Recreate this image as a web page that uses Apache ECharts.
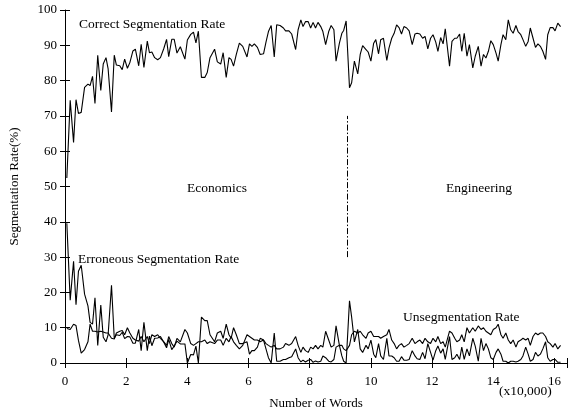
<!DOCTYPE html>
<html>
<head>
<meta charset="utf-8">
<script src="https://cdn.jsdelivr.net/npm/echarts@6/dist/echarts.min.js"></script>
<style>html,body{margin:0;padding:0;background:#fff}#c{width:570px;height:415px}</style>
</head>
<body>
<div id="c"></div>
<script>
const xs = [
0.06,0.17,0.28,0.36,0.44,0.53,0.64,0.75,0.82,0.90,
0.98,1.07,1.17,1.25,1.34,1.41,1.52,1.61,1.68,1.79,
1.87,1.95,2.04,2.12,2.22,2.30,2.41,2.49,2.58,2.69,
2.76,2.84,2.93,3.03,3.12,3.23,3.32,3.39,3.49,3.57,
3.66,3.77,3.92,4.00,4.11,4.20,4.28,4.36,4.46,4.57,
4.65,4.74,4.89,4.98,5.09,5.17,5.27,5.36,5.43,5.51,
5.60,5.70,5.81,5.95,6.03,6.11,6.19,6.29,6.38,6.49,
6.57,6.65,6.74,6.84,6.92,7.03,7.14,7.21,7.32,7.41,
7.54,7.62,7.71,7.78,7.86,7.95,8.03,8.11,8.19,8.27,
8.36,8.43,8.52,8.62,8.70,8.79,8.86,8.97,9.05,9.11,
9.19,9.30,9.37,9.46,9.57,9.65,9.73,9.84,9.91,10.00,
10.09,10.16,10.25,10.32,10.41,10.52,10.59,10.68,10.76,10.84,
10.92,11.00,11.08,11.17,11.25,11.35,11.44,11.51,11.60,11.69,
11.77,11.86,11.95,12.03,12.12,12.19,12.28,12.36,12.43,12.49,
12.57,12.65,12.74,12.81,12.90,12.97,13.05,13.14,13.22,13.33,
13.41,13.51,13.60,13.68,13.76,13.84,13.92,14.00,14.09,14.16,
14.25,14.32,14.41,14.49,14.57,14.65,14.74,14.81,14.90,14.97,
15.06,15.14,15.21,15.30,15.38,15.46,15.54,15.62,15.71,15.78,
15.86,15.95,16.02,16.11,16.20
];
const correctRate = [
52.4,74.4,62.5,74.6,70.7,71.0,78.1,79.0,78.6,81.2,
73.5,87.2,77.2,84.7,86.5,83.3,71.1,87.2,84.4,84.2,
83.1,86.1,83.5,85.1,88.4,88.9,84.2,90.3,83.7,91.2,
87.9,88.1,86.5,85.9,86.5,89.1,91.7,86.8,91.7,91.7,
87.8,89.6,86.1,91.5,93.1,93.7,90.7,94.0,80.9,80.9,
82.3,86.5,88.9,85.3,84.7,87.9,80.9,86.5,86.0,84.1,
87.4,90.6,89.7,86.7,90.4,89.7,90.4,89.4,87.4,87.6,
90.9,93.9,95.6,86.7,95.8,95.6,94.9,94.1,94.1,93.2,
88.8,94.4,97.2,95.3,96.7,96.7,94.9,96.5,94.9,96.5,
95.3,93.9,90.2,93.9,95.6,94.4,85.5,90.6,93.4,94.2,
96.9,78.0,79.4,85.5,81.9,87.4,89.9,88.8,88.1,85.5,
90.6,91.6,87.6,91.6,92.0,85.7,89.2,92.0,93.4,95.8,
95.0,93.2,95.3,94.9,94.1,90.2,93.2,93.4,93.2,92.0,
92.5,89.0,92.0,93.0,90.9,88.3,92.2,90.4,94.7,95.0,
84.1,91.1,92.0,92.0,93.2,88.3,93.4,86.9,90.2,83.6,
86.9,89.7,84.1,87.4,86.4,88.3,91.3,90.2,87.8,85.5,
90.2,93.0,91.6,97.2,94.4,93.4,95.6,93.9,93.0,91.6,
89.7,91.1,94.9,92.0,89.4,90.4,89.7,88.3,86.0,93.0,
95.0,95.0,94.1,96.3,95.3
];
const erroneousRate = [
39.6,17.8,28.8,16.5,26.0,27.7,19.5,16.2,11.5,11.0,
18.5,5.0,16.4,7.3,6.0,8.0,22.0,7.0,8.0,7.8,
8.7,6.9,7.5,7.4,5.6,5.6,9.5,3.5,11.5,3.5,
7.6,4.9,7.0,7.1,7.5,5.9,4.3,6.7,3.8,4.8,
6.2,5.4,5.4,0.0,2.4,2.3,4.8,0.0,13.0,12.0,
12.0,8.0,6.0,8.5,9.0,7.0,11.0,8.0,7.0,10.0,
8.0,5.5,5.5,6.0,2.5,3.5,3.5,4.5,7.0,6.5,
4.0,1.5,0.0,8.5,0.5,0.5,1.0,1.0,1.5,1.8,
4.0,1.5,0.3,0.8,0.3,0.8,1.0,0.2,0.6,0.3,
0.5,2.0,1.5,0.5,0.3,1.0,4.5,5.0,2.0,0.5,
0.0,17.6,13.0,6.0,9.5,4.0,3.0,5.0,4.0,6.5,
2.5,1.5,5.5,2.0,1.0,7.0,2.0,2.0,1.5,0.5,
0.5,1.8,0.8,0.8,1.0,3.5,2.0,1.2,1.0,3.0,
1.2,5.5,3.0,0.8,3.5,4.8,2.8,4.0,1.0,0.5,
7.5,1.0,1.5,2.5,1.0,4.5,1.0,4.0,2.0,7.0,
4.8,0.5,7.0,3.5,5.5,4.0,1.5,1.0,3.0,4.0,
2.5,0.5,0.5,0.0,0.5,0.5,0.3,0.5,1.0,2.0,
4.5,2.5,0.5,1.0,3.0,2.0,2.5,4.0,6.0,1.5,
0.5,1.0,1.0,0.2,0.2
];
const unsegRate = [
9.8,9.5,11.0,10.6,6.4,2.8,3.8,6.0,11.0,9.0,
9.0,8.8,9.0,8.8,8.5,8.5,7.0,6.8,8.5,9.0,
9.2,8.0,10.0,8.5,7.0,6.5,6.2,7.5,6.0,7.5,
5.5,8.0,7.5,8.0,7.0,6.0,5.0,7.5,5.5,4.5,
7.0,6.0,9.5,8.5,5.5,5.0,5.5,6.0,6.0,6.5,
5.5,6.0,5.5,6.5,6.5,5.0,7.0,6.0,7.5,6.0,
5.0,4.0,5.0,8.0,7.5,7.0,6.5,6.5,6.0,6.5,
5.5,5.0,4.5,5.0,4.0,4.0,4.5,5.5,5.0,5.5,
7.5,5.0,3.0,4.5,3.5,3.0,4.5,4.0,5.0,4.0,
5.0,4.5,9.0,6.5,4.5,5.0,10.5,5.0,5.0,4.0,
3.5,5.0,8.0,9.0,8.5,9.0,8.0,7.0,8.5,9.0,
7.5,7.5,7.5,7.0,7.5,8.0,9.5,6.5,5.5,4.0,
5.0,5.5,4.5,5.0,5.5,7.0,5.5,6.0,6.5,5.5,
7.0,6.0,5.5,7.0,6.0,7.5,5.5,6.0,4.5,5.0,
9.0,8.5,7.0,6.0,6.5,8.0,6.0,10.0,8.5,10.0,
9.0,10.5,9.5,10.0,9.0,8.5,8.0,9.5,10.0,11.0,
8.0,7.0,8.5,6.5,5.5,6.5,4.5,6.0,6.5,7.0,
6.5,7.0,5.0,7.5,8.5,8.0,8.5,8.5,7.5,6.0,
5.5,4.5,5.5,4.0,5.0
];
const xTicks = [0, 2, 4, 6, 8, 10, 12, 14, 16];
const boundaryX = 9.23;
const boundaryY = [30, 70];
const labels = {
  correct: 'Correct Segmentation Rate',
  erroneous: 'Erroneous Segmentation Rate',
  unseg: 'Unsegmentation Rate',
  left: 'Economics',
  right: 'Engineering',
  unit: '(x10,000)',
  xName: 'Number of Words',
  yName: 'Segmentation Rate(%)'
};

const FONT = 'Liberation Serif';
const FS = 13;
const FA = 13.5;
const pairs = arr => arr.map((v, i) => [xs[i], v]);
const lineSeries = (name, arr) => ({
  name, type: 'line', data: pairs(arr), showSymbol: false, symbol: 'none',
  lineStyle: { color: '#000', width: 1.1 }, silent: true, animation: false
});

const chart = echarts.init(document.getElementById('c'), null, { renderer: 'canvas' });
const XMAX = 16.41;
const baseX = {
  type: 'value', min: 0, max: XMAX, interval: 2,
  axisLine: { show: true, lineStyle: { color: '#000', width: 1 } },
  axisTick: { show: true, inside: true, length: 5, lineStyle: { color: '#000' } },
  splitLine: { show: false }
};
const baseY = {
  type: 'value', min: 0, max: 100, interval: 10,
  axisLine: { show: true, lineStyle: { color: '#000', width: 1 } },
  axisTick: { show: true, inside: true, length: 5, lineStyle: { color: '#000' } },
  splitLine: { show: false }
};
const s0 = lineSeries('correct', correctRate);
s0.markLine = {
  silent: true, symbol: 'none', animation: false,
  label: { show: false },
  lineStyle: { color: '#000', width: 1, type: [6, 2, 1.5, 2] },
  data: [[{ coord: [boundaryX, boundaryY[0]] }, { coord: [boundaryX, boundaryY[1]] }]]
};
const txt = (s, x, y, align) => ({
  type: 'text', x, y, silent: true,
  style: { text: s, font: FA + 'px "' + FONT + '"', fill: '#000', align, verticalAlign: 'middle' }
});
chart.setOption({
  animation: false,
  backgroundColor: '#fff',
  grid: { left: 63, top: 10, right: 0, bottom: 49 },
  xAxis: [
    Object.assign({}, baseX, {
      position: 'bottom',
      name: labels.xName, nameLocation: 'middle', nameGap: 34,
      nameTextStyle: { fontFamily: FONT, fontSize: FS, color: '#000' },
      axisLabel: {
        fontFamily: FONT, fontSize: FS, color: '#000', margin: 12,
        formatter: v => (xTicks.indexOf(v) >= 0 ? String(v) : '')
      }
    }),
    Object.assign({}, baseX, { position: 'top', axisLabel: { show: false } })
  ],
  yAxis: [
    Object.assign({}, baseY, {
      position: 'left',
      name: labels.yName, nameLocation: 'middle', nameGap: 44,
      nameTextStyle: { fontFamily: FONT, fontSize: FS, color: '#000' },
      axisLabel: { fontFamily: FONT, fontSize: FS, color: '#000', margin: 8 }
    }),
    Object.assign({}, baseY, {
      position: 'right', axisLabel: { show: false },
      axisLine: { show: false }
    })
  ],
  series: [s0, lineSeries('erroneous', erroneousRate), lineSeries('unseg', unsegRate)],
  graphic: [
    txt(labels.correct, 79, 24, 'left'),
    txt(labels.erroneous, 78, 259, 'left'),
    txt(labels.unseg, 403, 317, 'left'),
    txt(labels.left, 217, 188, 'center'),
    txt(labels.right, 479, 188, 'center'),
    txt(labels.unit, 499, 391, 'left')
  ]
});
</script>
</body>
</html>
